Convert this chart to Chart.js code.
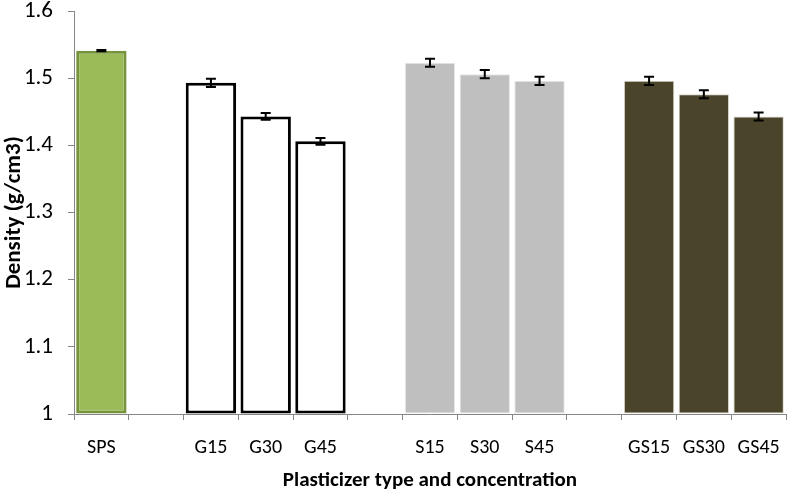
<!DOCTYPE html>
<html>
<head>
<meta charset="utf-8">
<script src="https://cdn.jsdelivr.net/npm/chart.js@4.4.1/dist/chart.umd.min.js"></script>
<style>
  html, body { margin: 0; padding: 0; background: #ffffff; }
  #wrap { width: 788px; height: 493px; position: relative; }
</style>
</head>
<body>
<div id="wrap"><canvas id="c" width="788" height="493"></canvas></div>
<script>
// ---- data ----
const categories = ['SPS', '', 'G15', 'G30', 'G45', '', 'S15', 'S30', 'S45', '', 'GS15', 'GS30', 'GS45'];
const density    = [1.541, null, 1.493, 1.443, 1.406, null, 1.523, 1.506, 1.496, null, 1.496, 1.476, 1.443];
const errors     = [0.001, null, 0.006, 0.005, 0.005, null, 0.006, 0.006, 0.006, null, 0.006, 0.006, 0.006];
const yTicks     = [1, 1.1, 1.2, 1.3, 1.4, 1.5, 1.6];

const groupOf = ['SPS', null, 'G', 'G', 'G', null, 'S', 'S', 'S', null, 'GS', 'GS', 'GS'];
const fillMap   = { SPS: '#9BBB59', G: '#FFFFFF', S: '#BFBFBF', GS: '#4A452A' };
const borderMap = { SPS: '#77933C', G: '#000000', S: '#E8E8E8', GS: '#D9D6C8' };
const bwMap     = { SPS: 3, G: 3, S: 1, GS: 1 };

const FONT = "Carlito, 'Liberation Sans Narrow', 'DejaVu Sans Condensed', sans-serif";

const errorBarPlugin = {
  id: 'errorBars',
  afterDatasetsDraw(chart) {
    const ctx = chart.ctx;
    const meta = chart.getDatasetMeta(0);
    const ys = chart.scales.y;
    ctx.save();
    ctx.strokeStyle = '#000000';
    ctx.lineWidth = 2;
    density.forEach((v, i) => {
      if (v == null || errors[i] == null) return;
      const bar = meta.data[i];
      const x = bar.x;
      const yHi = ys.getPixelForValue(v + errors[i]);
      const yLo = ys.getPixelForValue(v - errors[i]);
      const cap = 5;
      ctx.beginPath();
      ctx.moveTo(x, yHi); ctx.lineTo(x, yLo);
      ctx.moveTo(x - cap, yHi); ctx.lineTo(x + cap, yHi);
      ctx.moveTo(x - cap, yLo); ctx.lineTo(x + cap, yLo);
      ctx.stroke();
    });
    ctx.restore();
  }
};

new Chart(document.getElementById('c'), {
  type: 'bar',
  data: {
    labels: categories,
    datasets: [{
      data: density,
      backgroundColor: groupOf.map(g => g ? fillMap[g] : 'transparent'),
      borderColor: groupOf.map(g => g ? borderMap[g] : 'transparent'),
      borderWidth: groupOf.map(g => g ? bwMap[g] : 0),
      borderSkipped: false,
      categoryPercentage: 0.92,
      barPercentage: 1.0,
      base: 1
    }]
  },
  options: {
    responsive: false,
    animation: false,
    devicePixelRatio: 1,
    layout: { padding: { top: 11, right: 2, left: 0, bottom: 0 } },
    plugins: { legend: { display: false }, tooltip: { enabled: false } },
    scales: {
      x: {
        offset: true,
        grid: { offset: true, drawOnChartArea: false, drawTicks: true, tickLength: 6, color: '#868686', lineWidth: 1 },
        border: { display: true, color: '#868686', width: 1 },
        ticks: { color: '#000000', font: { family: FONT, size: 20 }, padding: 16, maxRotation: 0, autoSkip: false },
        title: { display: true, text: 'Plasticizer type and concentration', color: '#000000',
                 font: { family: FONT, size: 21, weight: 'bold' }, padding: { top: 4, bottom: 0 } },
        afterFit(s) { s.height = 79; s.paddingLeft = 0; s.paddingRight = 0; }
      },
      y: {
        min: 1, max: 1.6,
        afterBuildTicks(s) { s.ticks = yTicks.map(v => ({ value: v })); },
        grid: { drawOnChartArea: false, drawTicks: true, tickLength: 6, color: '#868686' },
        border: { display: true, color: '#868686', width: 1 },
        ticks: { color: '#000000', font: { family: FONT, size: 23 }, padding: 15,
                 callback: v => String(Math.round(v * 10) / 10) },
        title: { display: true, text: 'Density (g/cm3)', color: '#000000',
                 font: { family: FONT, size: 23, weight: 'bold' }, padding: { top: 0, bottom: 2 } },
        afterFit(s) { s.width = 74; s.paddingTop = 0; s.paddingBottom = 0; }
      }
    }
  },
  plugins: [errorBarPlugin]
});
</script>
</body>
</html>
